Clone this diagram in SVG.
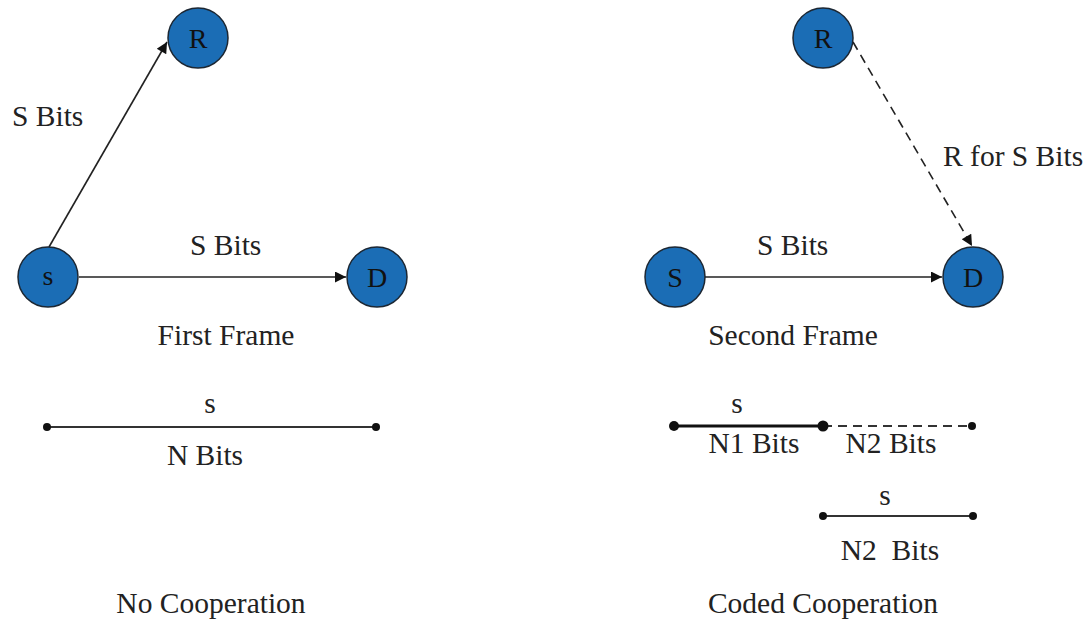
<svg xmlns="http://www.w3.org/2000/svg" width="1089" height="623" viewBox="0 0 1089 623">
  <style>
    text { font-family: "Liberation Serif", "Times New Roman", serif; font-size: 29.5px; fill: #222; }
    .mid { text-anchor: middle; }
    .node circle { fill: #1b6db5; stroke: #1c2733; stroke-width: 1.5; }
    .node text { text-anchor: middle; fill: #111; font-size: 28px; }
    .link { stroke: #222; stroke-width: 1.6; fill: none; }
    .dash { stroke-dasharray: 9 6; }
    .bar { stroke: #333; stroke-width: 2; fill: none; }
    .bar-thick { stroke: #111; stroke-width: 3; fill: none; }
    .dot { fill: #111; }
  </style>
  <defs>
    <marker id="arrow" viewBox="0 0 10 10" refX="10" refY="5" markerWidth="15" markerHeight="11" markerUnits="userSpaceOnUse" orient="auto">
      <path d="M0,0 L10,5 L0,10 z" fill="#111"/>
    </marker>
  </defs>

  <!-- connectors -->
  <g id="connectors">
    <line class="link" x1="49" y1="247" x2="167" y2="42" marker-end="url(#arrow)"/>
    <line class="link" x1="79" y1="277" x2="346" y2="277" marker-end="url(#arrow)"/>
    <line class="link dash" x1="853" y1="42" x2="972" y2="246" marker-end="url(#arrow)"/>
    <line class="link" x1="705" y1="277" x2="942" y2="277" marker-end="url(#arrow)"/>
  </g>

  <!-- left: no cooperation -->
  <g id="node-R1" class="node"><circle cx="198" cy="38" r="30"/><text x="198" y="48">R</text></g>
  <g id="node-s1" class="node"><circle cx="48" cy="277" r="30"/><text x="48" y="285">s</text></g>
  <g id="node-D1" class="node"><circle cx="377" cy="277" r="30"/><text x="377" y="287">D</text></g>

  <!-- right: coded cooperation -->
  <g id="node-R2" class="node"><circle cx="823" cy="38" r="30"/><text x="823" y="48">R</text></g>
  <g id="node-S2" class="node"><circle cx="675" cy="277" r="30"/><text x="675" y="287">S</text></g>
  <g id="node-D2" class="node"><circle cx="973" cy="277" r="30"/><text x="973" y="287">D</text></g>

  <!-- link labels -->
  <g id="labels">
    <text x="12" y="126">S Bits</text>
    <text x="190" y="255">S Bits</text>
    <text x="757" y="255">S Bits</text>
    <text x="943" y="166">R for S Bits</text>
    <text class="mid" x="226" y="345">First Frame</text>
    <text class="mid" x="793" y="345">Second Frame</text>
    <text class="mid" x="211" y="613">No Cooperation</text>
    <text class="mid" x="823" y="613">Coded Cooperation</text>
  </g>

  <!-- frame bit layouts -->
  <g id="frame-left">
    <line class="bar" x1="47" y1="427" x2="376" y2="427"/>
    <circle class="dot" cx="47" cy="427" r="4"/>
    <circle class="dot" cx="376" cy="427" r="4"/>
    <text class="mid" x="210" y="413">s</text>
    <text class="mid" x="205" y="465">N Bits</text>
  </g>

  <g id="frame-right">
    <line class="bar-thick" x1="674" y1="426" x2="823" y2="426"/>
    <line class="bar dash" x1="823" y1="426" x2="972" y2="426"/>
    <circle class="dot" cx="674" cy="426" r="5"/>
    <circle class="dot" cx="823" cy="426" r="5.5"/>
    <circle class="dot" cx="972" cy="426" r="4"/>
    <text class="mid" x="737" y="413">s</text>
    <text class="mid" x="754" y="453">N1 Bits</text>
    <text class="mid" x="891" y="453">N2 Bits</text>

    <line class="bar" x1="823" y1="516" x2="973" y2="516"/>
    <circle class="dot" cx="823" cy="516" r="4"/>
    <circle class="dot" cx="973" cy="516" r="4"/>
    <text class="mid" x="885" y="505">s</text>
    <text class="mid" x="890" y="560" xml:space="preserve">N2  Bits</text>
  </g>
</svg>
